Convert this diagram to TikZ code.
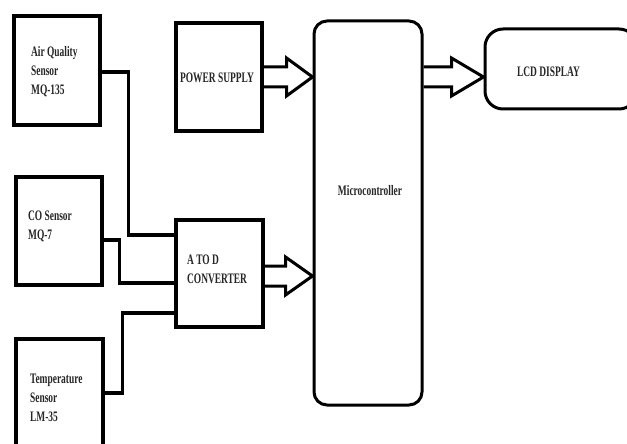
\documentclass[tikz,border=0pt]{standalone}
\usepackage{fontspec}
\setmainfont{Liberation Serif}
\usetikzlibrary{calc}
\newcommand\blockarr[3]{%
  \draw[barrow] ($(#1)+(0,-10)$) -- ($(#2)+(-#3,-10)$) -- ($(#2)+(-#3,-19)$) -- (#2)
    -- ($(#2)+(-#3,19)$) -- ($(#2)+(-#3,10)$) -- ($(#1)+(0,10)$);}
\begin{document}
\begin{tikzpicture}[x=1pt,y=-1pt,
  box/.style={draw,line width=3.6pt,inner sep=0pt},
  rbox/.style={draw,line width=3pt,rounded corners=13pt,inner sep=0pt},
  wire/.style={line width=3.2pt},
  barrow/.style={line width=3pt,line join=miter},
  lbl/.style={font=\fontsize{14.5}{19}\selectfont\bfseries,xscale=0.65,align=left,inner sep=0pt,text=black!85}]
\useasboundingbox (0,0) rectangle (627,444);
% boxes
\node[box,minimum width=86pt,minimum height=109pt] (aq) at (57,70.5) {};
\node[box,minimum width=86pt,minimum height=108pt] (ps) at (219,77) {};
\node[rbox,minimum width=108pt,minimum height=384pt] (mc) at (368,213) {};
\node[rbox,rounded corners=18pt,minimum width=152pt,minimum height=80pt] (lcd) at (561,69) {};
\node[box,minimum width=86pt,minimum height=108pt] (co) at (59,231) {};
\node[box,minimum width=87pt,minimum height=107pt] (adc) at (219.5,273.5) {};
\node[box,minimum width=87pt,minimum height=125pt] (tmp) at (59.5,401.5) {};
% labels
\node[lbl,anchor=west] (aqt) at (31,72) {Air Quality\\Sensor\\MQ-135};
\node[lbl,anchor=west] (pst) at (180,78) {POWER SUPPLY};
\node[lbl] (mct) at (370,191) {Microcontroller};
\node[lbl,anchor=west] (lcdt) at (517,72) {LCD DISPLAY};
\node[lbl,anchor=west] (cot) at (28,226) {CO Sensor\\MQ-7};
\node[lbl,anchor=west] (adct) at (187,269) {A TO D\\CONVERTER};
\node[lbl,anchor=west] (tmpt) at (30,398) {Temperature\\Sensor\\LM-35};
% wires
\coordinate (aqo) at ($(aq.east)+(0,1.5)$);
\coordinate (aqi) at ($(adc.west)+(0,-38.5)$);
\draw[wire] (aqo) -| ($(aqi)+(-46,0)$) -- (aqi);
\coordinate (coo) at ($(co.east)+(0,9)$);
\coordinate (coi) at ($(adc.west)+(0,9.5)$);
\draw[wire] (coo) -| ($(coi)+(-55,0)$) -- (coi);
\coordinate (tmo) at ($(tmp.east)+(0,-8.5)$);
\coordinate (tmi) at ($(adc.west)+(0,39.5)$);
\draw[wire] (tmo) -| ($(tmi)+(-52,0)$) -- (tmi);
% block arrows
\coordinate (t1) at (mc.west |- ps.east);
\blockarr{ps.east}{t1}{26}
\coordinate (a2s) at ($(adc.east)+(0,2.5)$);
\coordinate (t2) at (mc.west |- a2s);
\blockarr{a2s}{t2}{27}
\coordinate (a3s) at (mc.east |- ps.east);
\coordinate (t3) at (lcd.west |- ps.east);
\blockarr{a3s}{t3}{32}
\end{tikzpicture}
\end{document}
